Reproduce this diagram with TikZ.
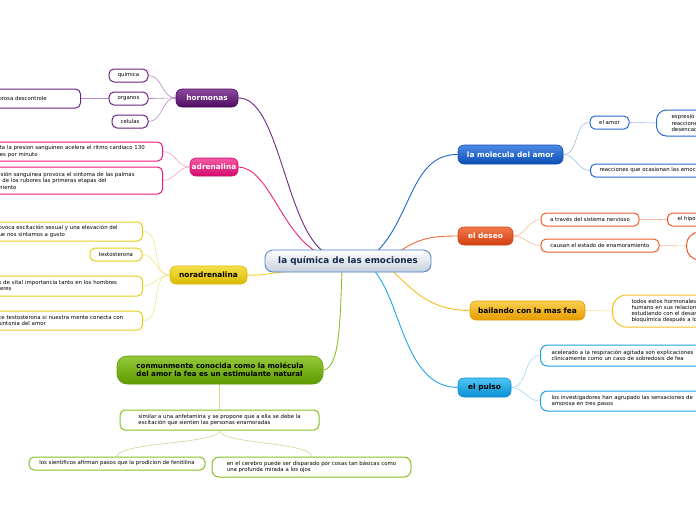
\documentclass[tikz,border=0pt]{standalone}
\usepackage{fontspec}
\setmainfont{DejaVu Sans}
\pgfdeclarelayer{bg}
\pgfsetlayers{bg,main}
\definecolor{purT}{HTML}{8B4A9E}\definecolor{purB}{HTML}{4F0B63}\definecolor{purLeaf}{HTML}{6B2382}\definecolor{purLine}{HTML}{B58AC5}\definecolor{purTrunk}{HTML}{6E2A85}
\definecolor{pinkT}{HTML}{F25AA0}\definecolor{pinkB}{HTML}{D4096E}\definecolor{pinkLeaf}{HTML}{F0157C}\definecolor{pinkLine}{HTML}{F7A6C8}\definecolor{pinkTrunk}{HTML}{F0207E}
\definecolor{yelT}{HTML}{F5E04A}\definecolor{yelB}{HTML}{D9B900}\definecolor{yelLeaf}{HTML}{E6CF1E}\definecolor{yelLine}{HTML}{F2E48A}\definecolor{yelTrunk}{HTML}{EDD21F}
\definecolor{grnT}{HTML}{94C93A}\definecolor{grnB}{HTML}{5E9A00}\definecolor{grnLeaf}{HTML}{86BE22}\definecolor{grnLine}{HTML}{C4DE95}\definecolor{grnTrunk}{HTML}{8CC226}
\definecolor{bluT}{HTML}{4A8BE3}\definecolor{bluB}{HTML}{0D4DB5}\definecolor{bluLeaf}{HTML}{2569D3}\definecolor{bluLine}{HTML}{9EC0EE}\definecolor{bluTrunk}{HTML}{2463CC}
\definecolor{orT}{HTML}{F27A4A}\definecolor{orB}{HTML}{CF3F12}\definecolor{orLeaf}{HTML}{EE5B2B}\definecolor{orLine}{HTML}{F7B79C}\definecolor{orTrunk}{HTML}{F06A36}
\definecolor{goldT}{HTML}{FAD050}\definecolor{goldB}{HTML}{E69C00}\definecolor{goldLeaf}{HTML}{F5BE1E}\definecolor{goldLine}{HTML}{F8DE90}\definecolor{goldTrunk}{HTML}{F5BE22}
\definecolor{cyT}{HTML}{4CC6F4}\definecolor{cyB}{HTML}{0A8FD2}\definecolor{cyLeaf}{HTML}{1E9FE6}\definecolor{cyLine}{HTML}{A2D8F6}\definecolor{cyTrunk}{HTML}{22A6E8}
\definecolor{hubB}{HTML}{C5D0DC}\definecolor{hubD}{HTML}{4A80C8}\definecolor{navy}{HTML}{14284B}
\tikzset{
  topic/.style={inner sep=0pt, rounded corners=6pt, minimum height=18pt, line width=0.6pt,
    font=\bfseries\fontsize{7.4}{9}\selectfont},
  hub/.style={topic, rounded corners=8pt, minimum width=166pt, minimum height=22pt,
    top color=white, bottom color=hubB, draw=hubD, line width=0.8pt, text=navy,
    font=\bfseries\fontsize{8.8}{10}\selectfont},
  leaf/.style={inner sep=0pt, rounded corners=5pt, draw, fill=white, line width=1pt,
    minimum height=13pt, font=\fontsize{5.4}{6.6}\selectfont},
  lcut/.style={leaf, anchor=east, inner xsep=7pt, align=left},
  rcut/.style={leaf, anchor=west, text width=150pt, align=left},
  trunk/.style={line width=0.9pt},
  twig/.style={line width=0.6pt},
}
\begin{document}
\begin{tikzpicture}[x=1pt,y=-1pt]
\useasboundingbox (0,0) rectangle (696,520);
\clip (0,0) rectangle (696,520);

% centre
\node[hub] (center) at (348,261) {la química de las emociones};
\coordinate (cPur) at (322,250.5);
\coordinate (cPink) at (315,251);
\coordinate (cYel) at (290,271.5);
\coordinate (cGrn) at (342,271.5);
\coordinate (cBlu) at (378,250.5);
\coordinate (cOr) at (400,251);
\coordinate (cGold) at (393,271.5);
\coordinate (cCy) at (375,271.5);

% hormonas
\node[topic, minimum width=62pt, top color=purT, bottom color=purB, draw=purB, text=white] (hormonas) at (207,98) {hormonas};
\node[leaf, draw=purLeaf, minimum width=39pt] (quimica) at (128.5,75.5) {quimica};
\node[leaf, draw=purLeaf, minimum width=39pt] (organos) at (128.5,98.5) {organos};
\node[leaf, draw=purLeaf, minimum width=36pt] (celulas) at (130,121.5) {celulas};
\node[lcut, draw=purLeaf, minimum height=19pt, text width=75pt] (descontrole) at (81,98.5) {orosa descontrole};

% adrenalina
\node[topic, minimum width=48pt, top color=pinkT, bottom color=pinkB, draw=pinkB, text=white] (adrenalina) at (214,167) {adrenalina};
\node[lcut, draw=pinkLeaf, minimum height=19pt, text width=159pt] (adr1) at (163,151.5) {eta la presion sanguineo acelera el ritmo cardiaco 130\\nes por minuto};
\node[lcut, draw=pinkLeaf, minimum height=27pt, text width=158pt] (adr2) at (163,180.5) {esión sanguinea provoca el sintoma de las palmas\\ y de los rubores las primeras etapas del\\miento};

% noradrenalina
\node[topic, minimum width=77pt, top color=yelT, bottom color=yelB, draw=yelB, text=black] (noradrenalina) at (208.5,275) {noradrenalina};
\node[lcut, draw=yelLeaf, minimum height=19pt, text width=137pt] (nor1) at (143,231.5) {ovoca excitación sexual y una elevación del\\ue nos sintamos a gusto};
\node[leaf, draw=yelLeaf, minimum width=52pt] (testo) at (116,254.5) {testosterona};
\node[lcut, draw=yelLeaf, minimum height=20pt, text width=137pt] (nor3) at (143,286) {s de vital importancia tanto en los hombres\\jeres};
\node[lcut, draw=yelLeaf, minimum height=19pt, text width=137pt] (nor4) at (143,320.5) {ce testosterona si nuestra mente conecta con\\sintonia del amor};

% green branch
\node[topic, minimum width=206pt, minimum height=28pt, rounded corners=10pt, top color=grnT, bottom color=grnB, draw=grnB, text=black, align=left, font=\bfseries\fontsize{7.1}{8.2}\selectfont] (molfea) at (220,370) {conmunmente conocida como la molécula\\del amor la fea es un estimulante natural};
\node[leaf, draw=grnLeaf, minimum width=199pt, minimum height=20pt, align=left] (sim) at (219.5,420) {similar a una anfetamina y se propone que a ella se debe la\\excitación que sienten las personas enamoradas};
\node[leaf, draw=grnLeaf, minimum width=176pt] (sient) at (117,463.5) {los sientificos afirman pasos que la prodicion de fenitilina};
\node[leaf, draw=grnLeaf, minimum width=199pt, minimum height=20pt, rounded corners=7pt, align=left] (cerebro) at (311.5,467) {en el cerebro puede ser disparado por cosas tan básicas como\\una profunda mirada a los ojos};

% la molecula del amor
\node[topic, minimum width=105pt, minimum height=19pt, top color=bluT, bottom color=bluB, draw=bluB, text=white] (molecula) at (510.5,154.5) {la molecula del amor};
\node[leaf, draw=bluLeaf, minimum width=39pt] (elamor) at (609.5,122.5) {el amor};
\node[rcut, draw=bluLeaf, minimum height=26pt, rounded corners=10pt, inner xsep=15pt] (expres) at (656,123) {expresió\\reaccione\\desencad};
\node[rcut, draw=bluLeaf, inner xsep=9pt] (reacc) at (590,170.5) {reacciones que ocasionan las emoc};

% el deseo
\node[topic, minimum width=55pt, top color=orT, bottom color=orB, draw=orB, text=white] (deseo) at (485.5,236) {el deseo};
\node[leaf, draw=orLeaf, minimum width=98pt] (atraves) at (590,219.5) {a través del sistema nervioso};
\node[rcut, draw=orLeaf, inner xsep=10pt] (hipot) at (667,219.5) {el hipot};
\node[leaf, draw=orLeaf, minimum width=118pt] (causan) at (600,245.5) {causan el estado de enamoramiento};
\node[leaf, draw=orLeaf, anchor=west, minimum width=60pt, minimum height=28pt, rounded corners=13pt] (oval) at (686,246) {};

% bailando
\node[topic, minimum width=115pt, minimum height=19pt, top color=goldT, bottom color=goldB, draw=goldB, text=black] (bailando) at (527.5,310.5) {bailando con la mas fea};
\node[rcut, draw=goldLeaf, minimum height=32pt, rounded corners=14pt, inner xsep=19pt, font=\fontsize{5.4}{6.2}\selectfont] (todos) at (612,311) {todos estos hormonales\\humano en sus relacion\\estudiando con el desarr\\bioquímica después a lo};

% el pulso
\node[topic, minimum width=53pt, minimum height=19pt, top color=cyT, bottom color=cyB, draw=cyB, text=black] (pulso) at (484.5,387.5) {el pulso};
\node[rcut, draw=cyLeaf, minimum height=21pt, inner xsep=11pt, rounded corners=7pt, text width=170pt] (acel) at (540,355.5) {acelerado a la respiración agitada son explicaciones\\clinicamente como un  caso de sobredosis de fea};
\node[rcut, draw=cyLeaf, minimum height=20pt, inner xsep=11pt, rounded corners=7pt, text width=170pt] (invest) at (540,401) {los investigadores han agrupado las sensaciones de\\amorosa en tres pasos};

\begin{pgfonlayer}{bg}
\fill[white] (0,0) rectangle (696,520);
% trunks
\draw[trunk, draw=purTrunk] (hormonas.east) .. controls (278,97) and (285,220) .. (cPur);
\draw[trunk, draw=pinkTrunk] (adrenalina.east) .. controls (268,168) and (280,228) .. (cPink);
\draw[trunk, draw=yelTrunk] (noradrenalina.east) .. controls (262,276) and (275,272) .. (cYel);
\draw[trunk, draw=grnTrunk] (cGrn) .. controls (340,320) and (340,368) .. (molfea.east);
\draw[trunk, draw=bluTrunk] (cBlu) .. controls (412,215) and (412,154) .. (molecula.west);
\draw[trunk, draw=orTrunk] (cOr) .. controls (420,238) and (432,236) .. (deseo.west);
\draw[trunk, draw=goldTrunk] (cGold) .. controls (415,292) and (430,310) .. (bailando.west);
\draw[trunk, draw=cyTrunk] (cCy) .. controls (402,305) and (405,387) .. (pulso.west);
% twigs left
\draw[twig, draw=purLine] (hormonas.west) to[out=180,in=0] (quimica.east);
\draw[twig, draw=purLine] (hormonas.west) to[out=180,in=0] (organos.east);
\draw[twig, draw=purLine] (hormonas.west) to[out=180,in=0] (celulas.east);
\draw[twig, draw=purLine] (organos.west) -- (descontrole.east);
\draw[twig, draw=pinkLine] (adrenalina.west) to[out=180,in=0] (adr1.east);
\draw[twig, draw=pinkLine] (adrenalina.west) to[out=180,in=0] (adr2.east);
\draw[twig, draw=yelLine] (noradrenalina.west) to[out=180,in=0] (nor1.east);
\draw[twig, draw=yelLine] (noradrenalina.west) to[out=180,in=0] (testo.east);
\draw[twig, draw=yelLine] (noradrenalina.west) to[out=180,in=0] (nor3.east);
\draw[twig, draw=yelLine] (noradrenalina.west) to[out=180,in=0] (nor4.east);
\draw[twig, draw=grnLine] (molfea.south -| sim.north) -- (sim.north);
\draw[twig, draw=grnLine] (sim.south) .. controls (220,444) and (117,442) .. (sient.north);
\draw[twig, draw=grnLine] (sim.south) .. controls (220,444) and (311,442) .. (cerebro.north);
% twigs right
\draw[twig, draw=bluLine] (molecula.east) to[out=0,in=180] (elamor.west);
\draw[twig, draw=bluLine] (molecula.east) to[out=0,in=180] (reacc.west);
\draw[twig, draw=bluLine] (elamor.east) -- (expres.west);
\draw[twig, draw=orLine] (deseo.east) to[out=0,in=180] (atraves.west);
\draw[twig, draw=orLine] (deseo.east) to[out=0,in=180] (causan.west);
\draw[twig, draw=orLine] (atraves.east) -- (hipot.west);
\draw[twig, draw=orLine] (causan.east) -- (oval.west);
\draw[twig, draw=goldLine] (bailando.east) -- (todos.west);
\draw[twig, draw=cyLine] (pulso.east) to[out=0,in=180] (acel.west);
\draw[twig, draw=cyLine] (pulso.east) to[out=0,in=180] (invest.west);
\end{pgfonlayer}
\end{tikzpicture}
\end{document}
